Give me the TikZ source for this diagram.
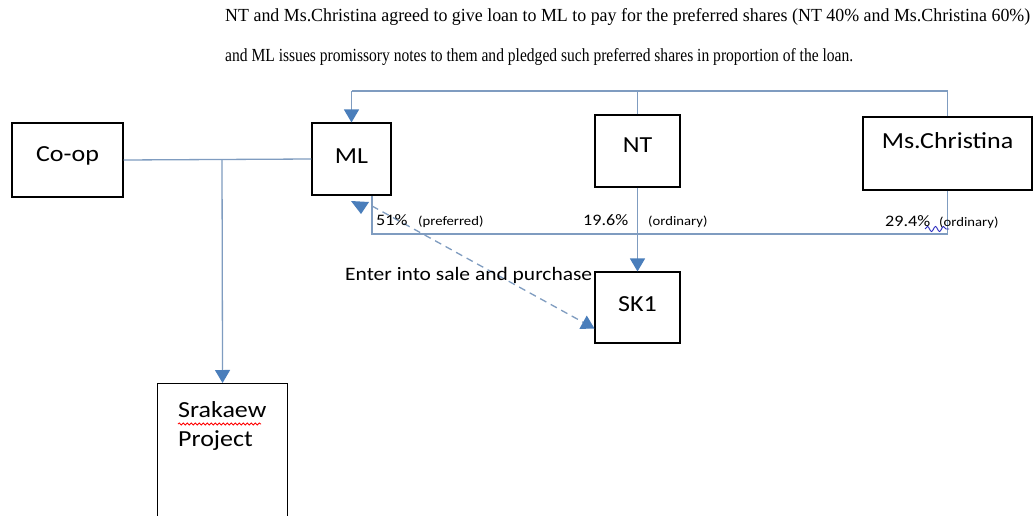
\documentclass[tikz,border=0pt]{standalone}
\usepackage{fontspec}
\usetikzlibrary{arrows.meta,decorations.pathmorphing}
\newfontfamily\boxfont[FakeStretch=1.13]{Carlito}
\newfontfamily\notefont{Liberation Serif}
\definecolor{linkblue}{HTML}{7F9CC0}
\definecolor{tipblue}{HTML}{4A7EBB}
\definecolor{squigblue}{HTML}{2A2ABF}
\tikzset{
  box/.style={draw=black, line width=1.1pt, rectangle, inner sep=0pt,
    font=\boxfont\fontsize{23}{23}\selectfont, text height=15pt},
  link/.style={draw=linkblue, line width=1.3pt},
  tip/.style={-{Triangle[width=15pt,length=13pt,color=tipblue]}},
  pct/.style={anchor=base west, inner sep=0pt, font=\boxfont\fontsize{16}{16}\selectfont},
  small/.style={anchor=base west, inner sep=0pt, font=\boxfont\fontsize{13}{13}\selectfont},
  note/.style={anchor=base west, inner sep=0pt}
}
\begin{document}
\begin{tikzpicture}[x=1pt,y=-1pt]
\clip (0,0) rectangle (1035,516);
\fill[white] (0,0) rectangle (1035,516);

% explanatory note
\node[note] (note1) at (225,22) {\resizebox{805pt}{13pt}{\notefont NT and Ms.Christina agreed to give loan to ML to pay for the preferred shares (NT 40\% and Ms.Christina 60\%)}};
\node[note] (note2) at (225,62) {\resizebox{628pt}{13pt}{\notefont and ML issues promissory notes to them and pledged such preferred shares in proportion of the loan.}};

% parties
\node[box, minimum width=111pt, minimum height=74pt, text depth=13pt] (coop) at (67.5,160) {Co-op};
\node[box, minimum width=79pt, minimum height=72pt, text depth=7pt] (ml) at (351.5,159) {ML};
\node[box, minimum width=85pt, minimum height=72pt, text depth=12pt] (nt) at (637.5,151) {NT};
\node[box, minimum width=169pt, minimum height=73pt, text depth=26pt] (ms) at (947.5,153.5) {Ms.Christina};
\node[box, minimum width=85pt, minimum height=71pt, text depth=8pt] (sk) at (637.5,307.5) {SK1};
\node[box, minimum width=130pt, minimum height=150pt, anchor=north west] (sra) at (157,383) {};
\node[anchor=north west, inner sep=0pt, align=left, font=\boxfont\fontsize{23}{29}\selectfont] (sratext) at (178,401) {Srakaew\\Project};
\draw[red, line width=0.8pt, decorate, decoration={snake, amplitude=1.1pt, segment length=4pt}] (178,424) -- (261,424);

% loan from NT and Ms.Christina to ML
\coordinate (topl) at (351.5,91);
\draw[link] (ms.north) |- (topl);
\draw[link] (nt.north) -- (nt.north |- topl);
\draw[link, tip] (topl) -- (ml.north);

% Co-op and ML to the project
\coordinate (jn) at (222,160);
\draw[link] (coop.east) -- (ml.west);
\draw[link, tip] (jn) -- (sra.north);

% shareholdings in SK1
\coordinate (bus) at (372,234);
\draw[link] (ms.south) |- (bus) -- (bus |- ml.south);
\draw[link, tip] (nt.south) -- (sk.north);

% sale and purchase
\coordinate (sp) at (372,206);
\draw[link, dashed, dash pattern=on 7pt off 5pt, tip] (sp) -- ([yshift=-21pt]sk.west);
\fill[tipblue] (351,201) -- (369,202) -- (361,214) -- cycle;

% labels
\node[pct] (p51) at (376,225) {51\%};
\node[small] (pref) at (418,225) {(preferred)};
\node[pct] (p196) at (583,225) {19.6\%};
\node[small] (ord1) at (648,225) {(ordinary)};
\node[pct] (p294) at (885,226) {29.4\%};
\node[small] (ord2) at (939,226) {(ordinary)};
\draw[squigblue, line width=0.9pt, decorate, decoration={snake, amplitude=2.5pt, segment length=8pt}] (925,229) -- (949,229);
\node[pct, font=\boxfont\fontsize{19}{19}\selectfont] (sale) at (345,280) {Enter into sale and purchase};
\end{tikzpicture}
\end{document}
